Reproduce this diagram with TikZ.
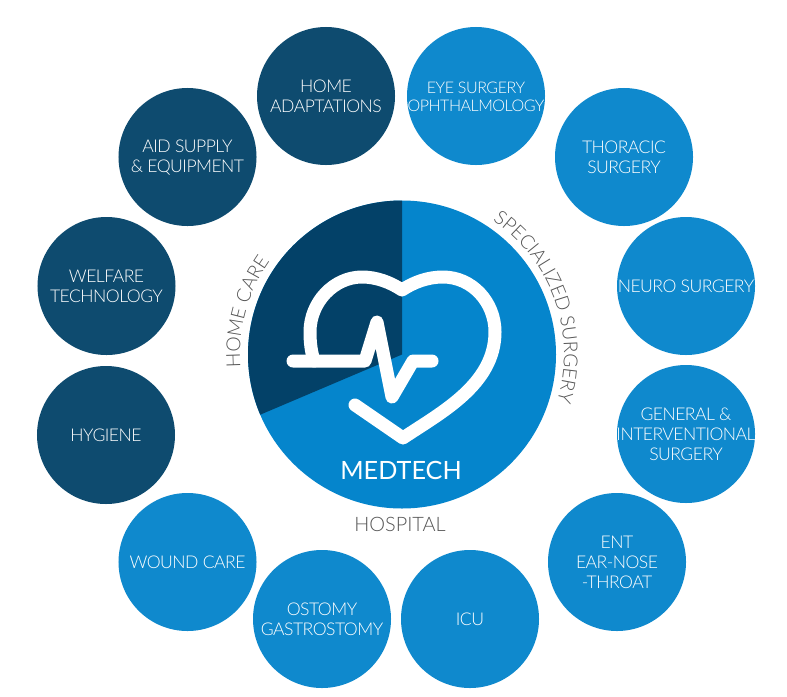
\documentclass[tikz,border=0pt]{standalone}
\usepackage{fontspec}
\setmainfont{Lato}[UprightFont=* Light,BoldFont=*]
\newfontfamily\deptfont{Lato}[UprightFont=* Light,LetterSpace=-3]
\usetikzlibrary{decorations.text}
\definecolor{deptblue}{HTML}{0F89CD}
\definecolor{deptdark}{HTML}{0E4B6F}
\definecolor{hubblue}{HTML}{0585CC}
\definecolor{hubdark}{HTML}{034168}
\definecolor{ringgray}{HTML}{555555}
\tikzset{dept/.style={circle, fill=deptblue, draw=none, minimum size=4.14cm,
         inner sep=0pt, outer sep=0pt},
         deptdk/.style={dept, fill=deptdark},
         deptlabel/.style={text=white, align=center, inner sep=0pt,
         font=\deptfont\fontsize{15}{17}\selectfont},
         smalllabel/.style={deptlabel, yshift=-.8pt, font=\deptfont\fontsize{13.7}{15.5}\selectfont},
         pulse/.style={draw=white, line width=.39cm, line cap=round, line join=round},
         ringtext/.style={decorate, decoration={text along path, text align=left,
         text={|\fontsize{16.5}{18}\selectfont\color{ringgray}|#1}}}}

\begin{document}
\begin{tikzpicture}[x=.03cm,y=.03cm]
      \useasboundingbox (0,0) rectangle (787,-696);
      \fill[white] (0,0) rectangle (787,-696);

      % home care side
      \node[deptdk, label={[deptlabel]center:HOME\\ADAPTATIONS}] (adapt) at (326,-96) {};
      \node[deptdk, label={[deptlabel, yshift=-.8pt]center:AID SUPPLY\\\& EQUIPMENT}] (aid) at (187.5,-157) {};
      \node[deptdk, label={[deptlabel]center:WELFARE\\TECHNOLOGY}] (welfare) at (106.5,-286) {};
      \node[deptdk, label={[deptlabel]center:HYGIENE}] (hygiene) at (106,-435) {};

      % hospital side
      \node[dept, label={[deptlabel]center:WOUND CARE}] (wound) at (187.5,-562) {};
      \node[dept, label={[deptlabel]center:OSTOMY\\GASTROSTOMY}] (ostomy) at (322,-619) {};
      \node[dept, label={[deptlabel]center:ICU}] (icu) at (470,-619) {};
      \node[dept, label={[deptlabel]center:ENT\\EAR-NOSE\\-THROAT}] (ent) at (617,-562) {};
      \node[dept, label={[deptlabel]center:GENERAL \&\\INTERVENTIONAL\\SURGERY}] (general) at (686,-434) {};
      \node[dept, label={[deptlabel]center:NEURO SURGERY}] (neuro) at (686,-286) {};
      \node[dept, label={[deptlabel]center:THORACIC\\SURGERY}] (thoracic) at (624,-157) {};
      \node[dept, label={[smalllabel]center:EYE SURGERY\\OPHTHALMOLOGY}] (eye) at (476,-96) {};

      % hub
      \coordinate (hub) at (402,-354.5);
      \fill[hubblue] (hub) circle (154);
      \fill[hubdark] (hub) -- ([shift={(90:154)}]hub) arc[start angle=90, end angle=203, radius=154] -- cycle;

      % heart and trace
      \draw[pulse] (314,-361) .. controls (311,-351) and (310,-342) .. (310,-332)
        .. controls (310,-302) and (334,-277) .. (362,-277)
        .. controls (376,-277) and (390,-282) .. (402,-290)
        .. controls (414,-282) and (428,-277) .. (443,-277)
        .. controls (472,-277) and (495,-302) .. (495,-332)
        .. controls (495,-385) and (440,-413) .. (403,-438) -- (355,-405);
      \draw[pulse] (293,-361) -- (365,-361) -- (377,-322) -- (392,-397) -- (413,-361) -- (432,-361);

      \node[text=white, font=\fontsize{21.5}{23}\bfseries, inner sep=0pt] (medtech) at (401,-470) {MEDTECH};
      \node[text=ringgray, font=\fontsize{17}{19}\selectfont, inner sep=0pt] (hospital) at (400,-524) {HOSPITAL};

      \path[ringtext={SPECIALIZED SURGERY}] ([shift={(56:162)}]hub) arc[start angle=56, end angle=-18, radius=162];
      \path[ringtext={HOME CARE}] ([shift={(184.5:162)}]hub) arc[start angle=184.5, end angle=135, radius=162];
    \end{tikzpicture}
\end{document}
